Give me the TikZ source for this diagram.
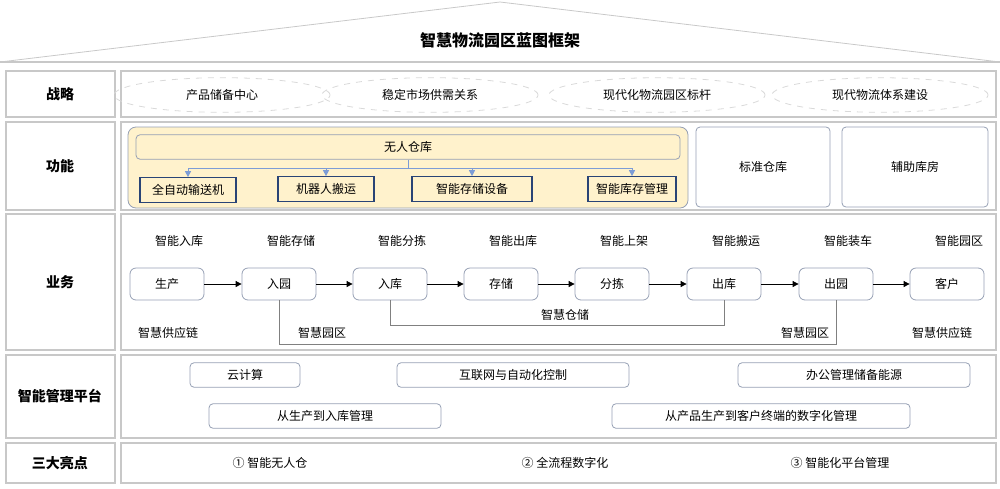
\documentclass[tikz,border=0pt]{standalone}
\usepackage{fontspec}
\setmainfont{Noto Sans CJK SC}
\usetikzlibrary{positioning,arrows.meta,shapes.geometric}
\definecolor{frame}{RGB}{200,200,200}
\definecolor{boxline}{RGB}{150,160,180}
\definecolor{warm}{RGB}{255,242,204}
\definecolor{bluearrow}{RGB}{68,114,196}
\tikzset{
  lbl/.style={font=\fontsize{7}{8}\selectfont\bfseries},
  txt/.style={font=\fontsize{6}{7}\selectfont},
  cell/.style={draw=frame,line width=0.8pt},
  goal/.style={ellipse,draw=frame!70,dashed,minimum width=108pt,minimum height=16pt,txt},
  stage/.style={draw=boxline,rounded corners=3pt,minimum width=37pt,minimum height=16pt,txt},
  part/.style={draw=bluearrow!60!black,line width=0.6pt,minimum height=11pt,txt},
  tool/.style={draw=boxline,rounded corners=2pt,minimum height=12pt,txt},
}
\begin{document}
\begin{tikzpicture}[x=0.5pt,y=-0.5pt]
  \useasboundingbox (0,0) rectangle (1000,488);
  % roof
  \draw[frame] (0,62) -- (500,2) -- (1000,62);
  \draw[frame,line width=0.8pt] (0,62) -- (1000,62);
  \node[lbl,font=\fontsize{8}{9}\selectfont\bfseries] (title) at (500,40) {智慧物流园区蓝图框架};

  % row frames
  \foreach \ya/\yb/\name in {71/117/战略,122/210/功能,214/350/业务,355/438/智能管理平台,443/483/三大亮点}{
    \draw[cell] (6,\ya) rectangle (115,\yb);
    \draw[cell] (121,\ya) rectangle (996,\yb);
    \node[lbl] at (60,{(\ya+\yb)/2}) {\name};
  }

  % strategy
  \node[goal] (g1) at (222,95) {产品储备中心};
  \node[goal] (g2) at (430,95) {稳定市场供需关系};
  \node[goal] (g3) at (657,95) {现代化物流园区标杆};
  \node[goal] (g4) at (880,95) {现代物流体系建设};

  % function
  \draw[draw=boxline,fill=warm,rounded corners=4pt] (128,127) rectangle (688,208);
  \node[draw=boxline,rounded corners=2pt,fill=warm,minimum width=272pt,minimum height=10pt,txt] (wh) at (408,147) {无人仓库};
  \node[part,minimum width=48pt] (f1) at (188,190) {全自动输送机};
  \node[part,minimum width=48pt] (f2) at (326,189) {机器人搬运};
  \node[part,minimum width=60pt] (f3) at (472,189) {智能存储设备};
  \node[part,minimum width=44pt] (f4) at (632,189) {智能库存管理};
  \coordinate (hub) at (408,168);
  \draw[bluearrow!70] (wh.south) -- (hub);
  \foreach \f in {f1,f2,f3,f4}
    \draw[bluearrow!70,-{Triangle[length=3pt,width=3pt]}] (hub) -| (\f.north);
  \node[draw=boxline,rounded corners=2pt,minimum width=67pt,minimum height=40pt,txt] (std) at (763,167) {标准仓库};
  \node[draw=boxline,rounded corners=2pt,minimum width=73pt,minimum height=40pt,txt] (aux) at (915,167) {辅助库房};

  % business
  \foreach \x/\n/\top/\name in {167/s1/智能入库/生产,279/s2/智能存储/入园,390/s3/智能分拣/入库,501/s4/智能出库/存储,612/s5/智能上架/分拣,724/s6/智能搬运/出库,836/s7/智能装车/出园,947/s8/智能园区/客户}{
    \node[stage] (\n) at (\x,284) {\name};
    \node[txt] (t\n) at (\x+12,241) {\top};
  }
  \foreach \a/\b in {s1/s2,s2/s3,s3/s4,s4/s5,s5/s6,s6/s7,s7/s8}
    \draw[-{Triangle[length=3pt,width=3pt]}] (\a) -- (\b);
  \coordinate (c1) at (390,325);
  \coordinate (c2) at (279,344);
  \draw[gray] (s3.south) -- (c1) -| (s6.south);
  \draw[gray] (s2.south) -- (c2) -| (s7.south);
  \node[txt] (z1) at (168,333) {智慧供应链};
  \node[txt] (z2) at (322,333) {智慧园区};
  \node[txt] (z3) at (565,315) {智慧仓储};
  \node[txt] (z4) at (805,333) {智慧园区};
  \node[txt] (z5) at (942,333) {智慧供应链};

  % platform
  \node[tool,minimum width=55pt] (p1) at (245,375) {云计算};
  \node[tool,minimum width=116pt] (p2) at (513,375) {互联网与自动化控制};
  \node[tool,minimum width=116pt] (p3) at (854,375) {办公管理储备能源};
  \node[tool,minimum width=116pt] (p4) at (325,416) {从生产到入库管理};
  \node[tool,minimum width=149pt] (p5) at (761,416) {从产品生产到客户终端的数字化管理};

  % highlights
  \node[txt] (h1) at (270,463) {① 智能无人仓};
  \node[txt] (h2) at (565,463) {② 全流程数字化};
  \node[txt] (h3) at (840,463) {③ 智能化平台管理};
\end{tikzpicture}
\end{document}
